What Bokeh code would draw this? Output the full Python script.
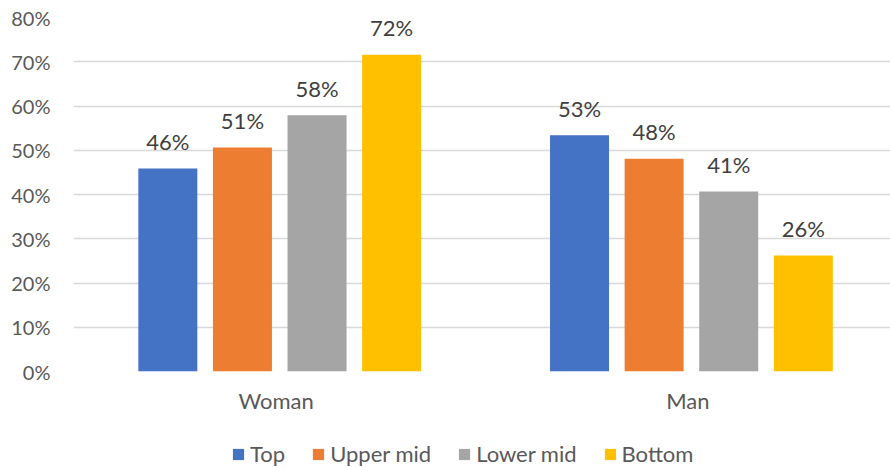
from bokeh.plotting import figure
from bokeh.layouts import column
from bokeh.models import (FactorRange, Range1d, FixedTicker, NumeralTickFormatter,
                          Legend, LegendItem, ColumnDataSource)
from bokeh.transform import dodge
from bokeh.core.properties import value
from bokeh.embed import file_html
from bokeh.resources import INLINE

categories = ["Woman", "Man"]
series = ["Top", "Upper mid", "Lower mid", "Bottom"]
top = [0.459, 0.534]
upper_mid = [0.506, 0.481]
lower_mid = [0.579, 0.407]
bottom = [0.716, 0.262]
y_ticks = [0.0, 0.1, 0.2, 0.3, 0.4, 0.5, 0.6, 0.7, 0.8]

colors = ["#4472C4", "#ED7D31", "#A5A5A5", "#FFC000"]
FONT = "Lato"

p = figure(x_range=FactorRange(*categories, range_padding=-0.00776),
           y_range=Range1d(0, 0.8),
           width=890, height=420, output_backend="svg", toolbar_location=None,
           min_border_left=73, min_border_right=0, min_border_top=17, min_border_bottom=49)
p.outline_line_color = None
p.background_fill_color = "white"
p.border_fill_color = "white"

step = 0.1812
shift = 0.0087
bar_w = 0.1433
vals = [top, upper_mid, lower_mid, bottom]
for i, (name, v, c) in enumerate(zip(series, vals, colors)):
    off = (i - 1.5) * step + shift
    src = ColumnDataSource(dict(cat=categories, val=v,
                                lab=[f"{round(x * 100)}%" for x in v]))
    p.vbar(x=dodge("cat", off, range=p.x_range), top="val", width=bar_w,
           source=src, fill_color=c, line_color=None)
    p.text(x=dodge("cat", off, range=p.x_range), y="val", text="lab", source=src,
           text_align="center", text_baseline="alphabetic", y_offset=-27,
           text_font=value(FONT), text_font_size="22px", text_color="#404040")

p.yaxis.ticker = FixedTicker(ticks=y_ticks)
p.yaxis.formatter = NumeralTickFormatter(format="0%")
p.yaxis.axis_line_color = None
p.yaxis.major_tick_line_color = None
p.yaxis.minor_tick_line_color = None
p.yaxis.major_label_standoff = 17
p.yaxis.major_label_text_font = FONT
p.yaxis.major_label_text_font_size = "20px"
p.yaxis.major_label_text_color = "#595959"

p.xaxis.axis_line_color = None
p.xaxis.major_tick_line_color = None
p.xaxis.major_label_standoff = 9
p.xaxis.major_label_text_font = FONT
p.xaxis.major_label_text_font_size = "22px"
p.xaxis.major_label_text_color = "#595959"

p.xgrid.grid_line_color = None
p.ygrid.grid_line_color = "#D9D9D9"
p.ygrid.grid_line_width = 1.3

# legend strip
q = figure(width=890, height=47, output_backend="svg", toolbar_location=None,
           x_range=Range1d(0, 1), y_range=Range1d(0, 1),
           x_axis_location=None, y_axis_location=None,
           min_border_left=0, min_border_right=0, min_border_top=0, min_border_bottom=0)
q.outline_line_color = None
q.xgrid.grid_line_color = None
q.ygrid.grid_line_color = None
q.border_fill_color = "white"
items = []
for name, c in zip(series, colors):
    r = q.rect(x=[-10], y=[-10], width=0.1, height=0.1, fill_color=c, line_color=None)
    items.append(LegendItem(label=name, renderers=[r]))
legend = Legend(items=items, orientation="horizontal", location=(158, 0),
                glyph_width=14, glyph_height=14, label_standoff=5, spacing=26,
                padding=0, margin=0, border_line_color=None,
                background_fill_alpha=0,
                label_text_font=FONT, label_text_font_size="22px",
                label_text_color="#595959")
q.add_layout(legend, "center")

layout = column(p, q, spacing=0)
open("out.html", "w").write(file_html(layout, INLINE))
